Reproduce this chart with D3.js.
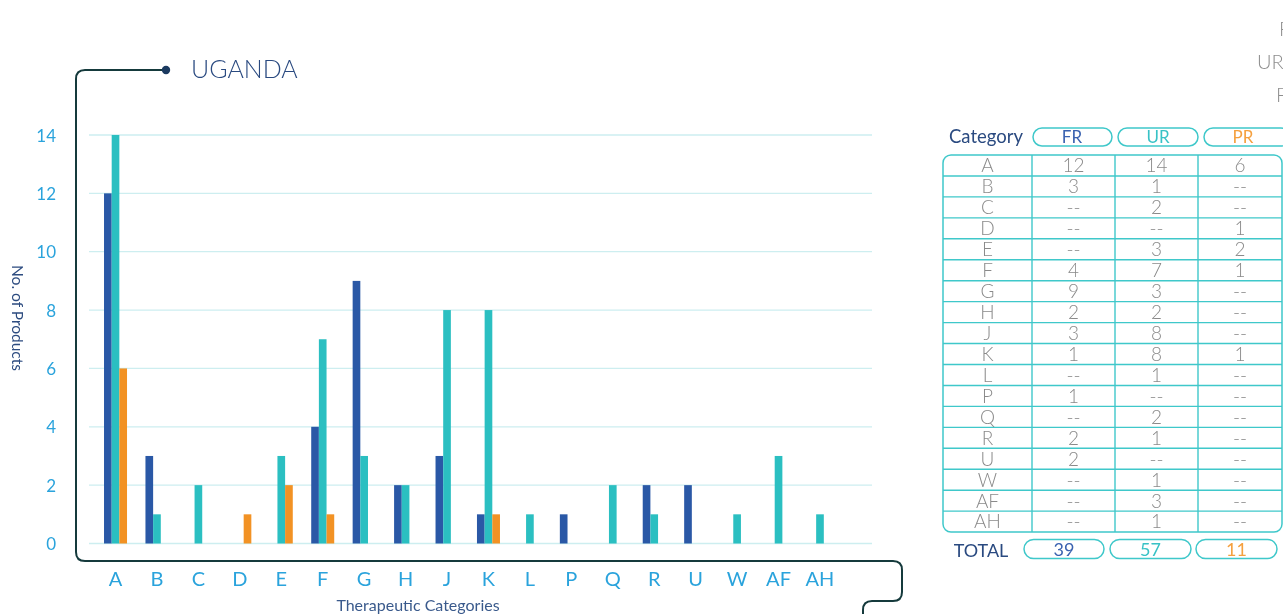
<!DOCTYPE html>
<html>
<head>
<meta charset="utf-8">
<script src="https://cdn.jsdelivr.net/npm/d3@7"></script>
<style>
  html, body { margin: 0; padding: 0; background: #ffffff; overflow: hidden; }
  svg { display: block; font-family: Lato, "Open Sans", sans-serif; will-change: transform; }
</style>
</head>
<body>
<svg id="chart" width="1283" height="614"></svg>
<script>
// Registered products per therapeutic category
const categories = ["A","B","C","D","E","F","G","H","J","K","L","P","Q","R","U","W","AF","AH"];
const seriesNames = ["FR","UR","PR"];
const frValues = [12, 3, null, null, null, 4, 9, 2, 3, 1, null, 1, null, 2, 2, null, null, null];
const urValues = [14, 1, 2, null, 3, 7, 3, 2, 8, 8, 1, null, 2, 1, null, 1, 3, 1];
const prValues = [6, null, null, 1, 2, 1, null, null, null, 1, null, null, null, null, null, null, null, null];
const yTicks = [0, 2, 4, 6, 8, 10, 12, 14];
const legendLabels = ["PR", "UR", "FR"];

const seriesValues = [frValues, urValues, prValues];
const colors = { FR: "#2a58a6", UR: "#2bbfc1", PR: "#f29224" };
const textColors = { FR: "#3a62b0", UR: "#38c2c6", PR: "#f5a03e" };

const svg = d3.select("#chart");

// ---------- scales ----------
const x = d3.scaleBand().domain(categories).range([94.8, 840.7]).paddingInner(0).paddingOuter(0);
const inner = d3.scaleBand().domain(seriesNames).range([0, 23]);
const y = d3.scaleLinear().domain([0, 14]).range([543.5, 135]);

// ---------- gridlines ----------
svg.append("g")
  .selectAll("line")
  .data(yTicks)
  .join("line")
  .attr("x1", 89).attr("x2", 872)
  .attr("y1", d => y(d)).attr("y2", d => y(d))
  .attr("stroke", "#cdeef0").attr("stroke-width", 1.3);

// ---------- y axis ----------
const yAxis = d3.axisLeft(y).tickValues(yTicks).tickSize(0).tickPadding(0);
const gy = svg.append("g").attr("transform", "translate(56,0)").call(yAxis);
gy.select(".domain").remove();
gy.selectAll("text")
  .attr("fill", "#2aa3dc").attr("font-size", 17).attr("dy", "0.36em")
  .style("font-family", "Lato, sans-serif");

svg.append("text")
  .attr("transform", "translate(12,318) rotate(90)")
  .attr("text-anchor", "middle")
  .attr("fill", "#2d4c80").attr("font-size", 15.5)
  .text("No. of Products");

// ---------- bars ----------
const barData = [];
categories.forEach((c, i) => {
  seriesNames.forEach((s, j) => {
    const v = seriesValues[j][i];
    if (v != null) barData.push({ cat: c, series: s, value: v });
  });
});
svg.append("g")
  .selectAll("rect")
  .data(barData)
  .join("rect")
  .attr("x", d => x(d.cat) + x.bandwidth() / 2 - 11.5 + inner(d.series))
  .attr("width", inner.bandwidth())
  .attr("y", d => y(d.value))
  .attr("height", d => y(0) - y(d.value))
  .attr("fill", d => colors[d.series]);

// ---------- x axis labels ----------
const xAxis = d3.axisBottom(x).tickSize(0).tickPadding(0);
const gx = svg.append("g").attr("transform", "translate(0,586)").call(xAxis);
gx.select(".domain").remove();
gx.selectAll("text")
  .attr("fill", "#2aa3dc").attr("font-size", 20).attr("dy", 0)
  .style("font-family", "Lato, sans-serif");

svg.append("text")
  .attr("x", 418).attr("y", 611)
  .attr("text-anchor", "middle")
  .attr("fill", "#3a5a8c").attr("font-size", 16)
  .text("Therapeutic Categories");

// ---------- frame connector ----------
svg.append("path")
  .attr("d", "M166 70 H85 Q76 70 76 79 V552 Q76 561 85 561 H893 Q902 561 902 570 V592 Q902 601 893 601 H872 Q863 601 863 610 V620")
  .attr("fill", "none").attr("stroke", "#153a3c").attr("stroke-width", 2);
svg.append("circle").attr("cx", 166).attr("cy", 70).attr("r", 4.2).attr("fill", "#1b3a60");

svg.append("text")
  .attr("x", 191).attr("y", 78)
  .attr("fill", "#2a4a80").attr("font-size", 25).attr("font-weight", 300)
  .text("UGANDA");

// ---------- legend labels at the right edge ----------
svg.append("g")
  .selectAll("text")
  .data(legendLabels)
  .join("text")
  .attr("x", (d, i) => [1279, 1257, 1276][i])
  .attr("y", (d, i) => 36 + i * 33)
  .attr("fill", "#8e8e8e").attr("font-size", 20).attr("font-weight", 300)
  .text(d => d);

// ---------- table ----------
const tableTop = 155, rowH = 20.95;
const colX = [943, 1032, 1115, 1198, 1282];
const teal = "#3fc8ca";
const tbl = svg.append("g");

// header
tbl.append("text")
  .attr("x", 986).attr("y", 143).attr("text-anchor", "middle")
  .attr("fill", "#2a4a80").attr("font-size", 18.5)
  .text("Category");
const pillHeader = [[1033, 1112], [1118, 1198], [1204, 1290]];
seriesNames.forEach((s, j) => {
  const [a, b] = pillHeader[j];
  tbl.append("rect")
    .attr("x", a).attr("y", 128).attr("width", b - a).attr("height", 18)
    .attr("rx", 9).attr("fill", "none").attr("stroke", teal).attr("stroke-width", 1.5);
  tbl.append("text")
    .attr("x", [1072, 1158, 1243][j]).attr("y", 143).attr("text-anchor", "middle")
    .attr("fill", textColors[s]).attr("font-size", 17)
    .text(s);
});

// body grid
const tableBottom = tableTop + rowH * categories.length;
tbl.append("g")
  .selectAll("line")
  .data(d3.range(1, categories.length))
  .join("line")
  .attr("x1", colX[0]).attr("x2", colX[4])
  .attr("y1", i => tableTop + i * rowH).attr("y2", i => tableTop + i * rowH)
  .attr("stroke", teal).attr("stroke-width", 1.4);
tbl.append("g")
  .selectAll("line")
  .data([1, 2, 3])
  .join("line")
  .attr("x1", i => colX[i]).attr("x2", i => colX[i])
  .attr("y1", tableTop).attr("y2", tableBottom)
  .attr("stroke", teal).attr("stroke-width", 1.4);
tbl.append("rect")
  .attr("x", colX[0]).attr("y", tableTop)
  .attr("width", colX[4] - colX[0]).attr("height", tableBottom - tableTop)
  .attr("rx", 8).attr("fill", "none").attr("stroke", teal).attr("stroke-width", 1.5);

// body text
categories.forEach((c, i) => {
  const cy = tableTop + i * rowH + rowH / 2;
  const cells = [c, ...seriesValues.map(arr => arr[i] == null ? "--" : String(arr[i]))];
  cells.forEach((t, k) => {
    tbl.append("text")
      .attr("x", (colX[k] + colX[k + 1]) / 2).attr("y", cy)
      .attr("dy", "0.36em").attr("text-anchor", "middle")
      .attr("fill", "#8a8a8a").attr("font-size", 19).attr("font-weight", 300)
      .text(t);
  });
});

// totals
tbl.append("text")
  .attr("x", 981).attr("y", 557).attr("text-anchor", "middle")
  .attr("fill", "#2a4a80").attr("font-size", 18)
  .text("TOTAL");
const pillTotal = [[1024, 1104], [1110, 1191], [1196, 1277]];
seriesNames.forEach((s, j) => {
  const [a, b] = pillTotal[j];
  const total = d3.sum(seriesValues[j], v => v || 0);
  tbl.append("rect")
    .attr("x", a).attr("y", 539.5).attr("width", b - a).attr("height", 19)
    .attr("rx", 9.5).attr("fill", "none").attr("stroke", teal).attr("stroke-width", 1.5);
  tbl.append("text")
    .attr("x", (a + b) / 2).attr("y", 556).attr("text-anchor", "middle")
    .attr("fill", textColors[s]).attr("font-size", 18)
    .text(total);
});
</script>
</body>
</html>
